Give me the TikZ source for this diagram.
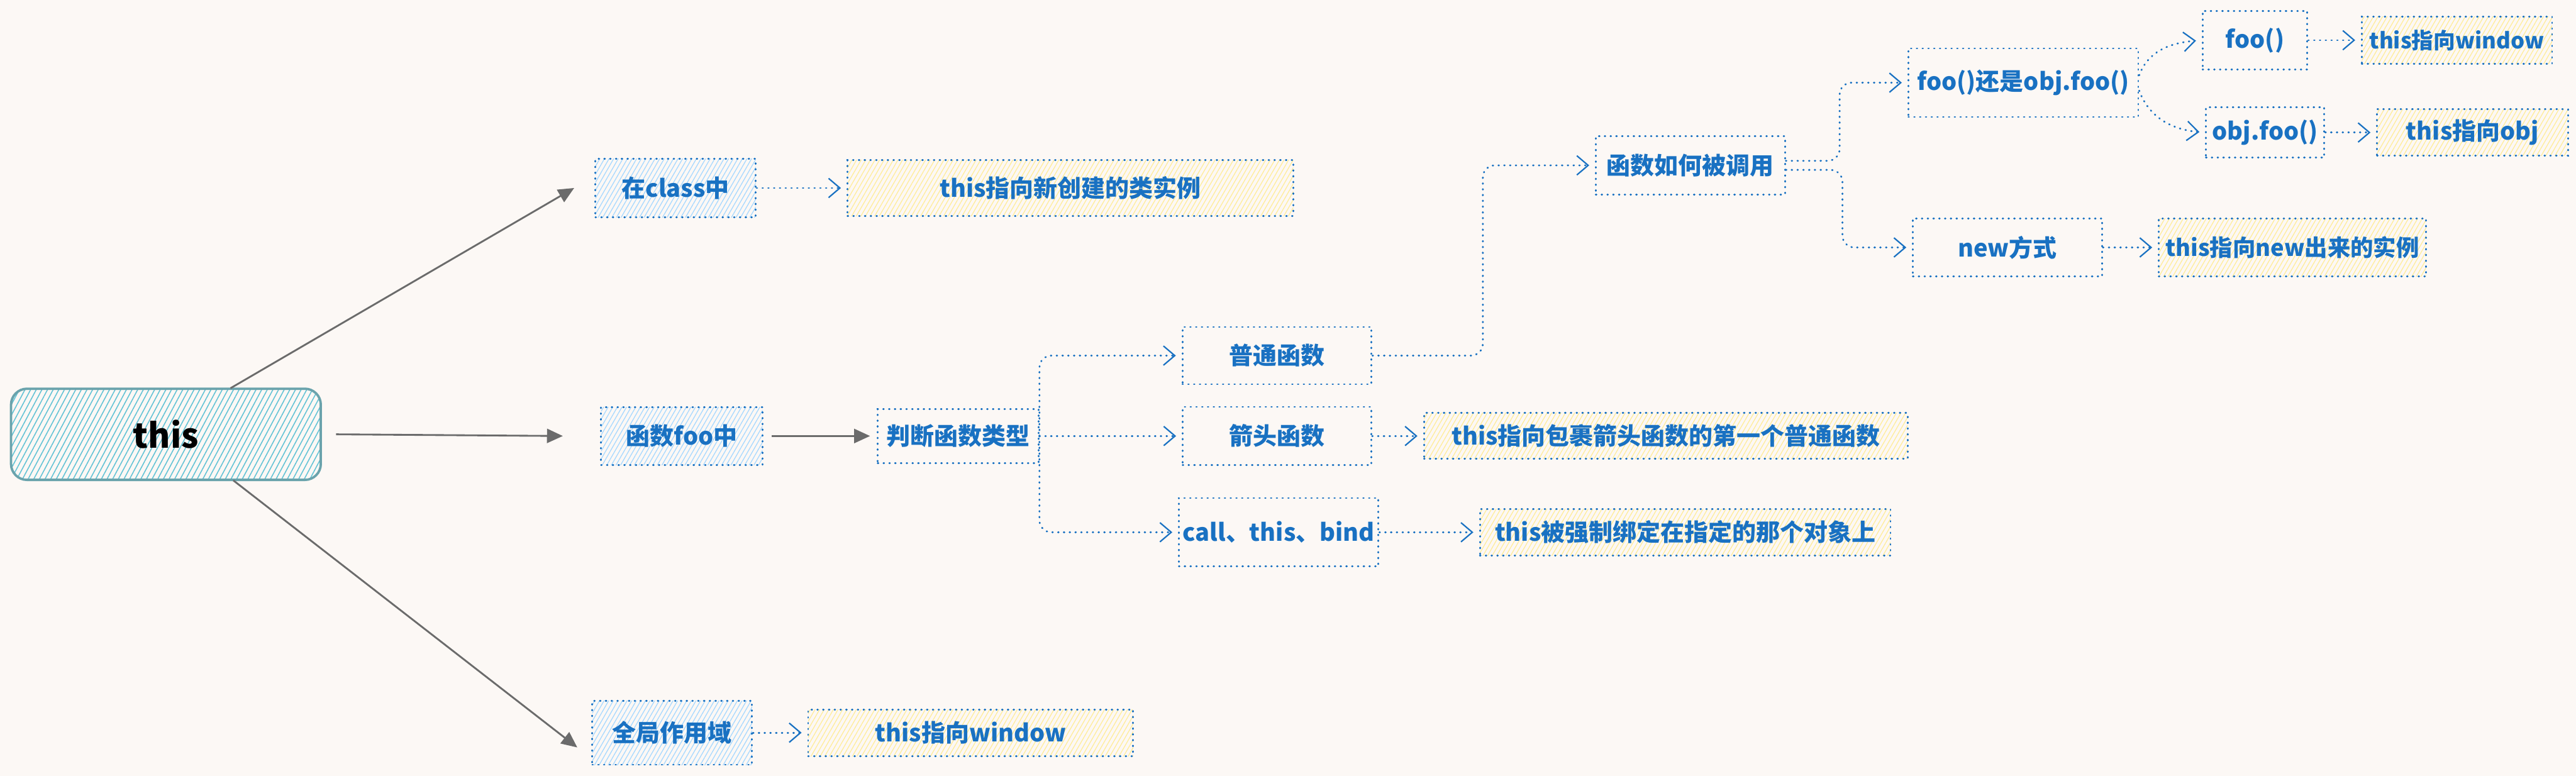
\documentclass[tikz,border=0pt]{standalone}
\usepackage{fontspec}
\setmainfont{Noto Sans CJK SC}
\usepackage{xcolor}
\usepackage{tikz}
\usetikzlibrary{arrows.meta,positioning,calc,patterns.meta}

\definecolor{bgpaper}{HTML}{FCF8F5}
\definecolor{inkblue}{HTML}{1971C2}
\definecolor{hatchblue}{HTML}{A5D8FF}
\definecolor{hatchyellow}{HTML}{FFEC99}
\definecolor{rootline}{HTML}{6AA3AC}
\definecolor{roothatch}{HTML}{63C3D5}
\definecolor{arrowgray}{HTML}{6B6B6B}

\begin{document}
\begin{tikzpicture}[
    box/.style={rectangle, draw=inkblue, line width=0.9pt, dash pattern=on 0.3pt off 2.6pt, line cap=round, text=inkblue, font=\fontsize{12}{14}\selectfont\bfseries, align=center, inner sep=2pt},
    topic/.style={box, preaction={draw=none, solid, line cap=butt, pattern={Lines[angle=60, distance=2pt, line width=0.4pt]}, pattern color=hatchblue}},
    result/.style={box, preaction={draw=none, solid, line cap=butt, pattern={Lines[angle=60, distance=2pt, line width=0.4pt]}, pattern color=hatchyellow}},
    root/.style={rectangle, rounded corners=8pt, draw=rootline, line width=1.2pt, pattern={Lines[angle=62, distance=2.5pt, line width=0.5pt]}, pattern color=roothatch, font=\fontsize{17}{20}\selectfont\bfseries, minimum width=5.47cm, minimum height=1.61cm},
    main/.style={-{Triangle[length=0.28cm, width=0.25cm]}, draw=arrowgray, line width=0.9pt},
    flow/.style={draw=inkblue, line width=0.9pt, dash pattern=on 0.3pt off 2.6pt, line cap=round, -{Straight Barb[length=0.2cm, width=0.34cm, line width=0.7pt]}, rounded corners=6pt, shorten >=0.1cm}
]

% Paper
\fill[bgpaper] (0,0) rectangle (45.49,-13.70);
\useasboundingbox (0,0) rectangle (45.49,-13.70);

% Root
\node[root] (this) at (2.93,-7.67) {this};

% Where this lives
\node[topic, minimum width=2.83cm, minimum height=1.03cm] (in-class) at (11.93,-3.32) {在class中};
\node[topic, minimum width=2.85cm, minimum height=1.02cm] (in-foo) at (12.04,-7.70) {函数foo中};
\node[topic, minimum width=2.82cm, minimum height=1.13cm] (global) at (11.87,-12.94) {全局作用域};

\node[result, minimum width=7.87cm, minimum height=0.98cm, right=1.59cm of in-class] (class-res) {this指向新创建的类实例};
\node[result, minimum width=5.74cm, minimum height=0.82cm, right=0.96cm of global] (glob-res) {this指向window};

% Function types
\node[box, minimum width=2.84cm, minimum height=0.95cm] (judge) at (16.92,-7.70) {判断函数类型};
\node[box, minimum width=3.34cm, minimum height=1.01cm] (normal) at (22.55,-6.28) {普通函数};
\node[box, minimum width=3.33cm, minimum height=1.03cm] (arrow-fn) at (22.55,-7.70) {箭头函数};
\node[box, minimum width=3.38cm, minimum height=1.21cm] (call-bind) at (22.58,-9.40) {call、this、bind};

\node[result, minimum width=8.54cm, minimum height=0.81cm, right=0.90cm of arrow-fn] (arrow-res) {this指向包裹箭头函数的第一个普通函数};
\node[result, minimum width=7.25cm, minimum height=0.82cm, right=1.76cm of call-bind] (call-res) {this被强制绑定在指定的那个对象上};

% Normal function calls
\node[box, minimum width=3.34cm, minimum height=1.03cm] (how-call) at (29.85,-2.92) {函数如何被调用};
\node[box, minimum width=4.06cm, minimum height=1.21cm] (foo-or) at (35.73,-1.46) {foo()还是obj.foo()};
\node[box, minimum width=3.34cm, minimum height=1.03cm] (new-way) at (35.45,-4.37) {new方式};
\node[box, minimum width=1.85cm, minimum height=1.04cm] (foo-call) at (39.82,-0.71) {foo()};
\node[box, minimum width=2.09cm, minimum height=0.89cm] (obj-foo) at (40.00,-2.34) {obj.foo()};

\node[result, minimum width=3.36cm, minimum height=0.83cm, right=0.93cm of foo-call, font=\fontsize{11}{14}\selectfont\bfseries] (win-res) {this指向window};
\node[result, minimum width=3.37cm, minimum height=0.82cm, right=0.90cm of obj-foo] (obj-res) {this指向obj};
\node[result, minimum width=4.72cm, minimum height=1.03cm, right=0.97cm of new-way, font=\fontsize{11.5}{14}\selectfont\bfseries] (new-res) {this指向new出来的实例};

% Arrows - root to topics
\draw[main] ([xshift=1.14cm]this.north) -- ([xshift=-0.36cm]in-class.west);
\draw[main] ([xshift=0.26cm]this.east) -- ([xshift=-0.66cm]in-foo.west);
\draw[main] ([xshift=1.19cm]this.south) -- ([xshift=-0.25cm,yshift=-0.26cm]global.west);
\draw[main] ([xshift=0.15cm]in-foo.east) -- ([xshift=-0.12cm]judge.west);

% Dotted flows
\draw[flow] (in-class) -- (class-res);
\draw[flow] (global) -- (glob-res);
\draw[flow] (judge.east) |- (normal.west);
\draw[flow] (judge.east) -- (arrow-fn.west);
\draw[flow] (judge.east) |- (call-bind.west);
\draw[flow] (arrow-fn) -- (arrow-res);
\draw[flow] (call-bind) -- (call-res);
\draw[flow] (normal.east) -- ++(1.95,0) |- (how-call.west);
\draw[flow] ([yshift=0.08cm]how-call.east) -- ++(0.95,0) |- (foo-or.west);
\draw[flow] ([yshift=-0.08cm]how-call.east) -- ++(1.0,0) |- (new-way.west);
\draw[flow] ([yshift=0.13cm]foo-or.east) to[out=70, in=185] (foo-call.west);
\draw[flow] ([yshift=-0.14cm]foo-or.east) to[out=-70, in=175] (obj-foo.west);
\draw[flow] (foo-call) -- (win-res);
\draw[flow] (obj-foo) -- (obj-res);
\draw[flow] (new-way) -- (new-res);

\end{tikzpicture}
\end{document}
